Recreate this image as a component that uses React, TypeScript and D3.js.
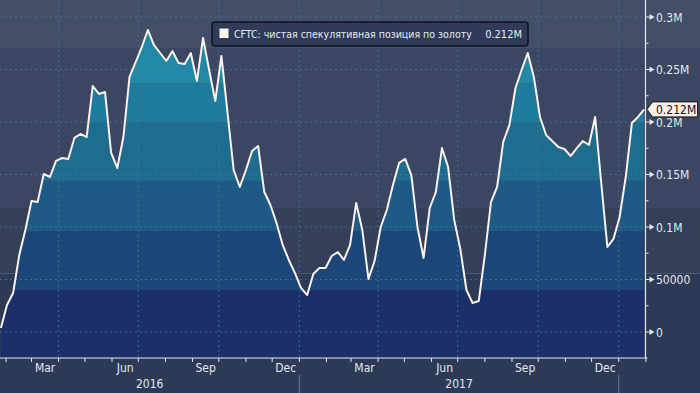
import React from "react";
import * as d3 from "d3";

// CFTC net speculative position in gold, weekly, contracts
const seriesName = "CFTC: чистая спекулятивная позиция по золоту";
const lastValueLabel = "0.212M";
const firstReport = new Date(2016, 0, 26);
const netPosition = [
  3800, 25700, 37100, 73300, 97100, 124800, 123800, 150500, 147600, 162900,
  165700, 164800, 184800, 188600, 185700, 234300, 226700, 228600, 170500, 156200,
  185700, 242900, 257100, 271400, 287600, 273300, 265700, 258100, 267600, 256200,
  255200, 265700, 239100, 280000, 249500, 220000, 262900, 208600, 154300, 138100,
  154300, 172400, 177100, 133300, 121000, 103800, 82900, 68600, 56200, 41900,
  35200, 55200, 61000, 61000, 72400, 76200, 68600, 82900, 122900, 97100,
  50500, 67600, 100000, 116200, 140000, 161000, 164800, 149500, 100000, 70500,
  118100, 133300, 175200, 157100, 106700, 79000, 40000, 27600, 29500, 73300,
  123800, 138100, 181000, 197100, 232400, 249500, 265700, 242900, 204800, 187600,
  181900, 176200, 174300, 167600, 175200, 181900, 178100, 204800, 141900, 81000,
  88600, 109500, 147600, 199000, 204800, 212000,
];
const reportDates = netPosition.map((_, i) => d3.timeDay.offset(firstReport, i * 7));

const yTicks = [0, 50000, 100000, 150000, 200000, 250000, 300000];
const yTickLabels = ["0", "50000", "0.1M", "0.15M", "0.2M", "0.25M", "0.3M"];
const monthNames = ["Mar", "Jun", "Sep", "Dec"];
const labelMonths = [2, 5, 8, 11];
const years = [2016, 2017];

// fill bands of the area, by value (bottom to top)
const areaBandEdges = [40000, 96000, 144000, 200000, 237000];
const areaBandColors = ["#1b2f6b", "#1c4677", "#1e5a86", "#1e6d8f", "#1f7b9b", "#2189a6"];
// background bands, by value (top to bottom)
const bgBandEdges = [270500, 119000, 56000];
const bgBandColors = ["#434e69", "#3b4662", "#343f5a", "#2d3a56"];

const W = 700;
const H = 393;
const plotRight = 645.5;
const plotBottom = 358;
const font = "'Liberation Sans Narrow', 'DejaVu Sans Condensed', 'Roboto Condensed', sans-serif";

export default function App() {
  const x = d3
    .scaleTime()
    .domain([new Date(2016, 0, 25), new Date(2018, 0, 31)])
    .range([0, 645]);
  const y = d3.scaleLinear().domain([0, 300000]).range([332, 17]);

  const area = d3
    .area<number>()
    .x((_, i) => x(reportDates[i]))
    .y0(plotBottom)
    .y1((d) => y(d));
  const line = d3
    .line<number>()
    .x((_, i) => x(reportDates[i]))
    .y((d) => y(d));

  // background band rectangles
  const bgY = [0, ...bgBandEdges.map((v) => y(v)), H];
  // area band rectangles
  const abY = [plotBottom, ...areaBandEdges.map((v) => y(v)), 0];

  const [d0, d1] = x.domain();
  const monthTicks = d3.timeMonth.range(d0, d3.timeDay.offset(d1, 2)).filter((d) => x(d) <= plotRight + 1);
  const monthLabelDates = d3
    .timeMonth.range(d0, d1)
    .filter((d) => labelMonths.includes(d.getMonth()));
  const quarterLines = d3
    .timeMonth.range(d0, d1)
    .filter((d) => d.getMonth() % 3 === 0);
  const yearSeparators = years.map((yr) => new Date(yr + 1, 0, 1));
  const minorTicks = d3.range(25000, 300001, 50000);

  return (
    <svg
      width={W}
      height={H}
      style={{ position: "absolute", left: 0, top: 0, display: "block" }}
      fontFamily={font}
    >
      <defs>
        <clipPath id="areaClip">
          <path d={area(netPosition) || ""} />
        </clipPath>
      </defs>
      {bgBandColors.map((c, i) => (
        <rect key={i} x={0} y={bgY[i]} width={W} height={bgY[i + 1] - bgY[i]} fill={c} />
      ))}
      <g clipPath="url(#areaClip)">
        {areaBandColors.map((c, i) => (
          <rect key={i} x={0} y={abY[i + 1]} width={plotRight} height={abY[i] - abY[i + 1]} fill={c} />
        ))}
      </g>
      {/* grid */}
      {yTicks.map((t) => (
        <line
          key={t}
          x1={0}
          x2={plotRight}
          y1={y(t)}
          y2={y(t)}
          stroke="#4c7a9c"
          strokeOpacity={0.75}
          strokeDasharray="2,3"
        />
      ))}
      {quarterLines.map((d, i) => (
        <line
          key={i}
          x1={x(d)}
          x2={x(d)}
          y1={0}
          y2={plotBottom}
          stroke="#4c7a9c"
          strokeOpacity={0.75}
          strokeDasharray="2,3"
        />
      ))}
      <path d={line(netPosition) || ""} fill="none" stroke="#fbf2ec" strokeWidth={2} strokeLinejoin="round" />
      {/* axes */}
      <line x1={0} x2={plotRight + 2} y1={plotBottom} y2={plotBottom} stroke="#e6e6ea" strokeWidth={1.2} />
      <line x1={plotRight} x2={plotRight} y1={0} y2={plotBottom} stroke="#e6e6ea" strokeWidth={1.2} />
      {monthTicks.map((d, i) => (
        <line key={i} x1={x(d)} x2={x(d)} y1={plotBottom} y2={plotBottom + 4} stroke="#e6e6ea" />
      ))}
      {monthLabelDates.map((d, i) => {
        const mid = new Date((d.getTime() + d3.timeMonth.offset(d, 1).getTime()) / 2);
        return (
          <text key={i} x={x(mid)} y={372} fontSize={12} fill="#e4e7ef" textAnchor="middle">
            {monthNames[labelMonths.indexOf(d.getMonth())]}
          </text>
        );
      })}
      {yearSeparators.map((d, i) => (
        <line key={i} x1={x(d)} x2={x(d)} y1={375} y2={H} stroke="#6f7a92" />
      ))}
      {years.map((yr) => {
        const a = Math.max(0, x(new Date(yr, 0, 1)));
        const b = Math.min(x(new Date(yr + 1, 0, 1)), plotRight);
        return (
          <text key={yr} x={(a + b) / 2} y={388} fontSize={12} fill="#e4e7ef" textAnchor="middle">
            {yr}
          </text>
        );
      })}
      {minorTicks.map((t) => (
        <line key={t} x1={plotRight} x2={plotRight + 3} y1={y(t)} y2={y(t)} stroke="#e6e6ea" />
      ))}
      {yTicks.map((t, i) => (
        <g key={t} transform={`translate(${plotRight},${y(t)})`}>
          <line x1={0} x2={5} y1={0} y2={0} stroke="#e6e6ea" />
          <path d="M4,-3L9,0L4,3Z" fill="#e6e6ea" />
          <text x={10.5} y={4.5} fontSize={12} fill="#e4e7ef">
            {yTickLabels[i]}
          </text>
        </g>
      ))}
      {/* last value callout */}
      <g transform={`translate(${plotRight + 1.5},${y(netPosition[netPosition.length - 1])})`}>
        <path d="M0,0L5.5,-7.5L50.5,-7.5L50.5,7.5L5.5,7.5Z" fill="#fdf1ea" stroke="#1a1a1a" />
        <text x={9} y={4.5} fontSize={12} fill="#111">
          {lastValueLabel}
        </text>
      </g>
      {/* legend */}
      <rect x={212} y={22} width={316} height={24} rx={3} fill="#2f3b58" stroke="#0e1322" strokeWidth={1.5} />
      <rect x={219.5} y={28.5} width={9} height={9.5} fill="#fdf1ea" />
      <text x={234} y={38} fontSize={10.5} fill="#e6e9f2">
        {seriesName}
      </text>
      <text x={522} y={38} fontSize={11} fill="#e6e9f2" textAnchor="end">
        {lastValueLabel}
      </text>
    </svg>
  );
}
